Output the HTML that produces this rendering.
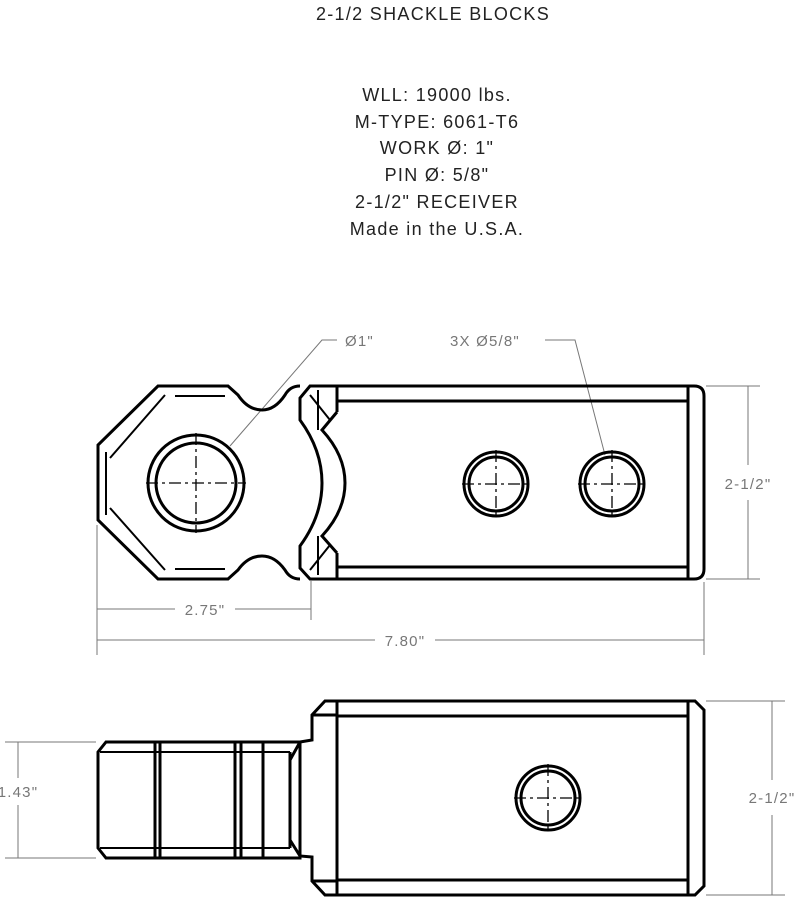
<!DOCTYPE html>
<html><head><meta charset="utf-8"><style>
html,body{margin:0;padding:0;background:#fff;}
svg{display:block;}
text{font-family:"Liberation Sans",sans-serif;}
</style></head><body>
<svg width="800" height="900" viewBox="0 0 800 900" xmlns="http://www.w3.org/2000/svg">
<g fill="#222" font-size="18" text-anchor="middle" letter-spacing="1.3">
<text x="433" y="20">2-1/2 SHACKLE BLOCKS</text>
<text x="437" y="101">WLL: 19000 lbs.</text>
<text x="437" y="128">M-TYPE: 6061-T6</text>
<text x="437" y="154">WORK  Ø: 1"</text>
<text x="437" y="181">PIN  Ø: 5/8"</text>
<text x="437" y="208">2-1/2" RECEIVER</text>
<text x="437" y="235">Made in the U.S.A.</text>
</g>
<!-- leaders -->
<g stroke="#777" stroke-width="1" fill="none">
<polyline points="337,340 322,340 230,446"/>
<polyline points="545,340 575,340 605,455"/>
</g>
<g fill="#777" font-size="15" letter-spacing="1.2"><text x="345" y="346">Ø1"</text><text x="450" y="346">3X  Ø5/8"</text></g>
<!-- top view -->
<g stroke="#000" stroke-width="3" fill="none">
<path d="M337,386 L694,386 Q704,386 704,396 L704,569 Q704,579 694,579 L337,579"/>
<line x1="337" y1="401" x2="688" y2="401"/><line x1="337" y1="567" x2="688" y2="567"/>
<line x1="688" y1="386" x2="688" y2="579"/>
<line x1="337" y1="386" x2="337" y2="412"/><line x1="337" y1="553" x2="337" y2="579"/>
<path d="M337,386 L310,386 L300,398 L300,420 Q322,450 322,483 Q322,516 300,546 L300,568 L310,579 L337,579"/>
<path d="M337,412 L322,430 Q345,455 345,483 Q345,511 322,536 L337,553"/>
<path d="M318,390 L318,430 M318,536 L318,575 M310,395 L330,420 M310,570 L330,545" stroke-width="2"/>
<path d="M300,386 Q290,386 285,395 Q275,410 262,410 Q248,410 238,395 L228,386 L158,386 L98,445 L98,520 L158,579 L228,579 L238,570 Q248,556 262,556 Q275,556 285,570 Q290,579 300,579"/>
<path d="M106,452 L106,515 M110,458 L165,395 M110,508 L165,570 M175,396 L225,396 M175,569 L225,569" stroke-width="2"/>
<circle cx="196" cy="483" r="48"/><circle cx="196" cy="483" r="40"/>
<circle cx="496" cy="484" r="32"/><circle cx="496" cy="484" r="27"/>
<circle cx="612" cy="484" r="32"/><circle cx="612" cy="484" r="27"/>
</g>
<g stroke="#000" stroke-width="1.3" stroke-dasharray="12,4,3,4" fill="none">
<line x1="146" y1="483" x2="246" y2="483"/><line x1="196" y1="433" x2="196" y2="533"/>
<line x1="462" y1="484" x2="530" y2="484"/><line x1="496" y1="450" x2="496" y2="518"/>
<line x1="578" y1="484" x2="646" y2="484"/><line x1="612" y1="450" x2="612" y2="518"/>
</g>
<!-- top dims -->
<g stroke="#777" stroke-width="1" fill="#777">
<line x1="706" y1="386" x2="760" y2="386"/><line x1="706" y1="579" x2="760" y2="579"/>
<line x1="748" y1="386" x2="748" y2="465"/><line x1="748" y1="500" x2="748" y2="579"/>
<line x1="97" y1="525" x2="97" y2="655"/><line x1="311" y1="580" x2="311" y2="620"/>
<line x1="704" y1="582" x2="704" y2="655"/>
<line x1="97" y1="609" x2="175" y2="609"/><line x1="235" y1="609" x2="311" y2="609"/>
<line x1="97" y1="640" x2="375" y2="640"/><line x1="435" y1="640" x2="704" y2="640"/>
</g>
<g fill="#777" font-size="15" text-anchor="middle" letter-spacing="1.2">
<text x="748" y="489">2-1/2"</text>
<text x="205" y="615">2.75"</text>
<text x="405" y="646">7.80"</text>
<text x="772" y="803">2-1/2"</text>
<text x="18" y="797">1.43"</text>
</g>
<!-- bottom view -->
<g stroke="#000" stroke-width="3" fill="none">
<path d="M337,701 L695,701 L704,710 L704,886 L695,895 L337,895"/>
<line x1="337" y1="716" x2="688" y2="716"/><line x1="337" y1="880" x2="688" y2="880"/>
<line x1="688" y1="701" x2="688" y2="895"/>
<line x1="337" y1="701" x2="337" y2="895"/>
<path d="M337,701 L325,701 L312,715 L312,740 L300,742 L290,760 M312,715 L325,715 L337,715"/>
<path d="M337,895 L325,895 L312,881 L312,857 L300,856 L290,840 M312,881 L337,881"/>
<path d="M300,742 L106,742 L98,752 L98,848 L106,858 L300,858 Z"/>
<line x1="290" y1="752" x2="290" y2="848"/>
<line x1="155" y1="742" x2="155" y2="858"/><line x1="160" y1="742" x2="160" y2="858"/>
<line x1="235" y1="742" x2="235" y2="858"/><line x1="241" y1="742" x2="241" y2="858"/>
<line x1="263" y1="742" x2="263" y2="858"/>
<line x1="100" y1="752" x2="290" y2="752" stroke-width="2"/><line x1="100" y1="848" x2="290" y2="848" stroke-width="2"/>
<circle cx="548" cy="798" r="32"/><circle cx="548" cy="798" r="27"/>
</g>
<g stroke="#000" stroke-width="1.3" stroke-dasharray="12,4,3,4" fill="none">
<line x1="514" y1="798" x2="582" y2="798"/><line x1="548" y1="764" x2="548" y2="832"/>
</g>
<g stroke="#777" stroke-width="1">
<line x1="706" y1="701" x2="785" y2="701"/><line x1="706" y1="895" x2="785" y2="895"/>
<line x1="772" y1="701" x2="772" y2="780"/><line x1="772" y1="815" x2="772" y2="895"/>
<line x1="5" y1="742" x2="96" y2="742"/><line x1="5" y1="858" x2="96" y2="858"/>
<line x1="18" y1="742" x2="18" y2="778"/><line x1="18" y1="805" x2="18" y2="858"/>
</g>
</svg>
</body></html>
